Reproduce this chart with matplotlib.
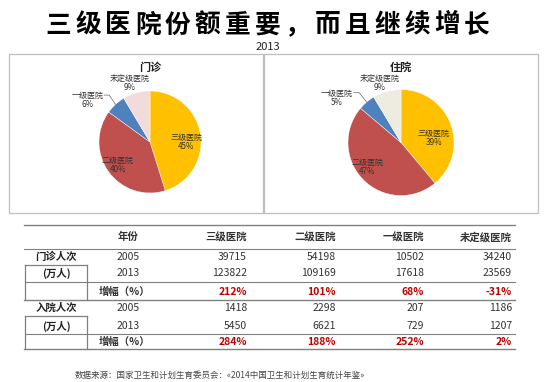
import numpy as np
import matplotlib
matplotlib.use('Agg')
import matplotlib.pyplot as plt
from matplotlib.lines import Line2D
from matplotlib.patches import Rectangle

plt.rcParams['font.family'] = ['Noto Sans CJK SC', 'DejaVu Sans']

# Data
categories = ['三级医院', '二级医院', '一级医院', '未定级医院']
outpatient_2005 = [39715, 54198, 10502, 34240]
outpatient_2013 = [123822, 109169, 17618, 23569]
inpatient_2005 = [1418, 2298, 207, 1186]
inpatient_2013 = [5450, 6621, 729, 1207]
years = ['2005', '2013']

title = '三级医院份额重要，而且继续增长'
subtitle = '2013'
source = '数据来源：国家卫生和计划生育委员会：«2014中国卫生和计划生育统计年鉴»'

W, H = 550, 382
fig = plt.figure(figsize=(W / 100, H / 100), dpi=100)
fig.patch.set_facecolor('white')


def fx(x):
    return x / W


def fy(y):
    return 1 - y / H


# Title, one glyph at a time to get the wide letter spacing
x_first, x_last = 58, 477
for i, ch in enumerate(title):
    xc = x_first + i * (x_last - x_first) / (len(title) - 1)
    fig.text(fx(xc), fy(25), ch, ha='center', va='center', fontsize=18.5,
             fontweight='heavy', color='black')
fig.text(fx(268), fy(47), subtitle, ha='center', va='center', fontsize=8, color='#222222')

# Chart frames
for x0, x1 in [(9, 264), (263, 538)]:
    fig.patches.append(Rectangle((fx(x0), fy(213)), (x1 - x0) / W, (213 - 54) / H,
                                 transform=fig.transFigure, fill=False,
                                 edgecolor='#BFBFBF', linewidth=0.9))

colors_out = ['#FFC000', '#C0504D', '#4F81BD', '#F2DCDB']
colors_in = ['#FFC000', '#C0504D', '#4F81BD', '#EEECE1']


def draw_pie(cx, cy, r, values, colors, name, label_pos, lead_idx):
    half = 80
    ax = fig.add_axes([fx(cx - half), fy(cy + half), 2 * half / W, 2 * half / H])
    lim = half / r
    wedges, _ = ax.pie(values, colors=colors, startangle=90, counterclock=False,
                       radius=1, wedgeprops=dict(edgecolor='white', linewidth=0.3))
    ax.set_xlim(-lim, lim)
    ax.set_ylim(-lim, lim)
    ax.set_aspect('equal')
    ax.axis('off')
    shares = np.array(values) / np.sum(values) * 100
    for i, (cat, pct) in enumerate(zip(categories, shares)):
        lx, ly = label_pos[i]
        ax.text(lx, ly, f'{cat}\n{pct:.0f}%', ha='center', va='center',
                fontsize=5.8, color='#333333', linespacing=1.05)
    # leader line for the small wedge
    w = wedges[lead_idx]
    mid = np.deg2rad((w.theta1 + w.theta2) / 2)
    lx, ly = label_pos[lead_idx]
    ax.plot([lx + 0.32, lx + 0.42, np.cos(mid)], [ly + 0.1, ly + 0.1, np.sin(mid)],
            color='#666666', linewidth=0.5)
    ax.text(0, (cy - 67) / r, name, ha='center', va='center', fontsize=8,
            fontweight='bold', color='#222222')


draw_pie(150, 142, 51, outpatient_2013, colors_out, '门诊',
         [(0.71, 0.0), (-0.63, -0.45), (-1.22, 0.82), (-0.39, 1.16)], 2)
draw_pie(401, 142.5, 53, inpatient_2013, colors_in, '住院',
         [(0.62, 0.08), (-0.64, -0.46), (-1.21, 0.84), (-0.4, 1.12)], 2)


# Table
def hline(y, x0=24, x1=515, color='#808080', lw=1.0):
    fig.add_artist(Line2D([fx(x0), fx(x1)], [fy(y), fy(y)], color=color, linewidth=lw))


def vline(x, y0, y1):
    fig.add_artist(Line2D([fx(x), fx(x)], [fy(y0), fy(y1)], color='#808080', linewidth=0.9))


hline(225)
hline(249, lw=0.8)
hline(282, x0=25, lw=0.8)
hline(300)
hline(334, x0=25, lw=0.8)
hline(349)
for top, bot in [(265, 300), (316, 349)]:
    hline(top, 25, 87, lw=0.9)
    vline(25, top, bot)
    vline(87, top, bot)

col_right = [247, 336, 424, 512]
text_kw = dict(fontsize=7.5, va='center')
fig.text(fx(128), fy(237), '年份', ha='center', fontweight='bold', color='#333333', **text_kw)
for xr, cat in zip(col_right, categories):
    fig.text(fx(xr), fy(237), cat, ha='right', fontweight='bold', color='#333333', **text_kw)

blocks = [('门诊人次', outpatient_2005, outpatient_2013, [257, 273, 292]),
          ('入院人次', inpatient_2005, inpatient_2013, [308, 326, 342])]
for name, v05, v13, ys in blocks:
    fig.text(fx(56), fy(ys[0]), name, ha='center', fontweight='bold', color='#222222', **text_kw)
    fig.text(fx(56), fy(ys[1]), '(万人)', ha='center', fontweight='bold', color='#222222', **text_kw)
    fig.text(fx(128), fy(ys[0]), years[0], ha='center', color='#333333', **text_kw)
    fig.text(fx(128), fy(ys[1]), years[1], ha='center', color='#333333', **text_kw)
    fig.text(fx(125), fy(ys[2]), '增幅（%）', ha='center', fontweight='bold', color='#333333', **text_kw)
    for xr, a, b in zip(col_right, v05, v13):
        fig.text(fx(xr), fy(ys[0]), f'{a}', ha='right', color='#333333', **text_kw)
        fig.text(fx(xr), fy(ys[1]), f'{b}', ha='right', color='#333333', **text_kw)
        growth = (b / a - 1) * 100
        fig.text(fx(xr), fy(ys[2]), f'{growth:.0f}%', ha='right', fontweight='bold',
                 color='#C00000', **text_kw)

fig.text(fx(75), fy(375), source, ha='left', va='center', fontsize=6.1, color='#444444')

fig.savefig('out.png', dpi=100, facecolor='white')
